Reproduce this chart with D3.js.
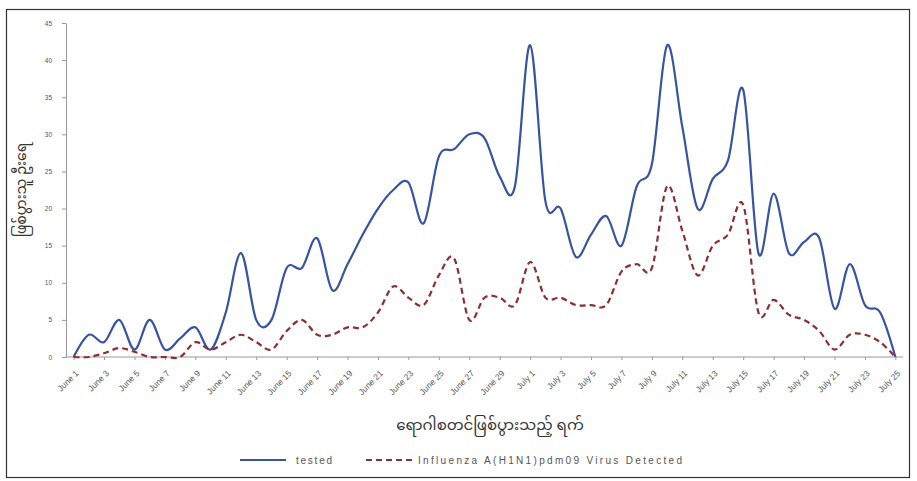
<!DOCTYPE html>
<html><head><meta charset="utf-8">
<script src="https://cdn.jsdelivr.net/npm/d3@7"></script>
<style>body{margin:0;background:#fff;} svg{display:block;}</style>
</head><body>
<svg id="c" width="917" height="481"></svg>
<script>
// Dates: June 1 .. July 25 (daily)
const categories = [];
for (let d = 1; d <= 30; d++) categories.push("June " + d);
for (let d = 1; d <= 25; d++) categories.push("July " + d);

const tested = [0,3,2,5,1,5,1,2.5,4,1,6,14,5,5,12,12,16,9,12.5,16.5,20,22.5,23.5,18,27,28,30,29.5,24.3,23,
  42,21,20,13.5,16.5,19,15,23,26,42,31,20,24,26.5,36,14,22,14,15.5,16,6.5,12.5,7,6,0];
const detected = [0,0,0.5,1.2,0.7,0,0,0,2,1,2,3,2,1,3.5,5,3,3,4,4,6,9.5,8,7,11,13.3,5,8,8,7,
  12.8,8,8,7,7,7,11.5,12.5,12,23,17,11,15,16.5,20.5,6,7.7,5.7,5,3.5,1,3,3,2,0];
const yTicks = [0,5,10,15,20,25,30,35,40,45];
const xLabels = categories.filter((c, i) => i % 2 === 0);
const seriesNames = ["tested", "Influenza A(H1N1)pdm09 Virus Detected"];
const yTitle = "ဖြစ်ပွားသူ ဦးရေ";
const xTitle = "ရောဂါစတင်ဖြစ်ပွားသည့် ရက်";

const svg = d3.select("#c");
svg.append("rect").attr("x",6.5).attr("y",9.5).attr("width",903).attr("height",468)
  .attr("fill","#fff").attr("stroke","#333").attr("stroke-width",1.2);

const x = d3.scalePoint().domain(categories).range([66, 903]).padding(0.5);
const y = d3.scaleLinear().domain([0,45]).range([357, 23]);

// Y axis
const yAxis = d3.axisLeft(y).tickValues(yTicks).tickSize(4).tickSizeOuter(0);
const gy = svg.append("g").attr("transform","translate(66,0)").call(yAxis);
gy.select(".domain").attr("stroke","#999");
gy.selectAll(".tick line").attr("stroke","#999");
gy.selectAll("text").attr("font-family","Liberation Sans, Arial").attr("font-size",6.5).attr("fill","#555").attr("x",-14);

// X axis
const xAxis = d3.axisBottom(x).tickValues(xLabels).tickSize(3).tickSizeOuter(0);
const gx = svg.append("g").attr("transform","translate(0,357)").call(xAxis);
gx.select(".domain").attr("stroke","#999").attr("d","M66,0H903");
gx.selectAll(".tick line").attr("stroke","#999");
gx.selectAll("text").attr("font-family","Liberation Sans, Arial").attr("font-size",8.5).attr("fill","#555")
  .attr("text-anchor","end").attr("dy",0).attr("y",0)
  .attr("transform","translate(5,17) rotate(-45)");

// Lines
const line = d3.line().x((d,i) => x(categories[i])).y(d => y(d)).curve(d3.curveCardinal);
svg.append("path").datum(tested).attr("d", line).attr("fill","none")
  .attr("stroke","#3653a4").attr("stroke-width",2.2);
svg.append("path").datum(detected).attr("d", line).attr("fill","none")
  .attr("stroke","#8c2f2f").attr("stroke-width",2.2).attr("stroke-dasharray","6,4");

// Titles
svg.append("text").attr("transform","translate(26,190) rotate(-90)").attr("text-anchor","middle")
  .attr("font-family","Noto Sans Myanmar, Padauk, Myanmar Text, sans-serif").attr("font-size",14).attr("fill","#333").text(yTitle);
svg.append("text").attr("x",490).attr("y",430).attr("text-anchor","middle")
  .attr("font-family","Noto Sans Myanmar, Padauk, Myanmar Text, sans-serif").attr("font-size",15).attr("fill","#333").text(xTitle);

// Legend
const lg = svg.append("g").attr("font-family","Liberation Sans, Arial").attr("font-size",10).attr("fill","#555");
lg.append("line").attr("x1",240).attr("x2",286).attr("y1",460).attr("y2",460).attr("stroke","#3653a4").attr("stroke-width",2.2);
lg.append("text").attr("x",296).attr("y",463.5).attr("textLength",36).text(seriesNames[0]);
lg.append("line").attr("x1",366).attr("x2",412).attr("y1",460).attr("y2",460).attr("stroke","#8c2f2f").attr("stroke-width",2.2).attr("stroke-dasharray","6,4");
lg.append("text").attr("x",418).attr("y",463.5).attr("textLength",264).text(seriesNames[1]);
</script>
</body></html>
